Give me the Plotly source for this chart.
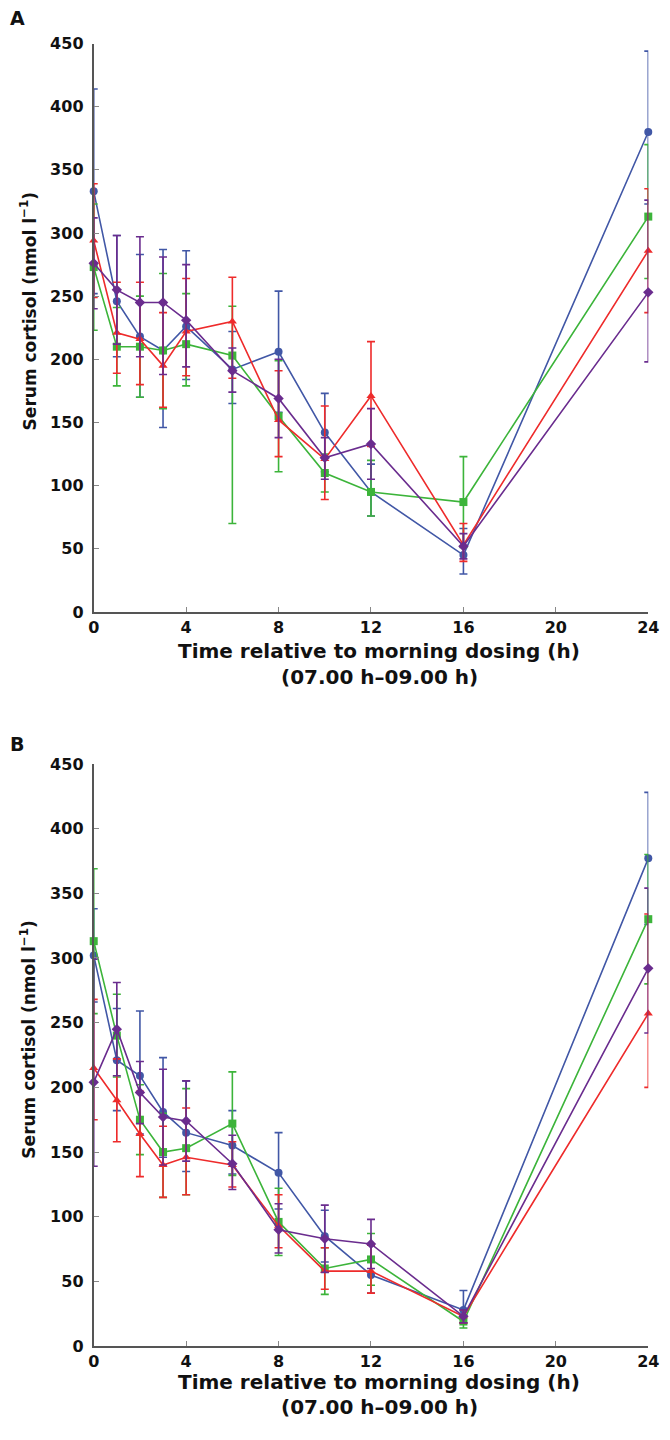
import plotly.graph_objects as go

times = [0, 1, 2, 3, 4, 6, 8, 10, 12, 16, 24]
x_ticks = [0, 4, 8, 12, 16, 20, 24]
y_ticks = [0, 50, 100, 150, 200, 250, 300, 350, 400, 450]

# Panel A
a_blue = [333, 246, 218, 207, 226, 192, 206, 142, 95, 45, 380]
a_blue_up = [81, 52, 65, 80, 60, 30, 48, 31, 22, 21, 64]
a_blue_dn = [81, 44, 48, 61, 42, 27, 48, 31, 19, 15, 57]
a_green = [273, 210, 210, 207, 212, 203, 155, 110, 95, 87, 313]
a_green_up = [50, 31, 40, 61, 40, 39, 44, 15, 25, 36, 57]
a_green_dn = [50, 31, 40, 46, 33, 133, 44, 15, 19, 36, 49]
a_red = [294, 221, 216, 195, 222, 230, 152, 121, 171, 53, 286]
a_red_up = [45, 40, 45, 42, 42, 35, 39, 42, 43, 17, 49]
a_red_dn = [45, 32, 36, 33, 35, 45, 29, 32, 40, 13, 49]
a_purple = [276, 255, 245, 245, 231, 191, 169, 122, 133, 52, 253]
a_purple_up = [36, 43, 52, 36, 44, 18, 31, 16, 28, 10, 73]
a_purple_dn = [36, 43, 43, 57, 37, 17, 31, 17, 28, 10, 55]

# Panel B
b_blue = [302, 221, 209, 181, 165, 155, 134, 85, 55, 28, 377]
b_blue_up = [36, 40, 50, 42, 40, 27, 31, 20, 14, 15, 51]
b_blue_dn = [36, 39, 45, 35, 30, 22, 28, 20, 14, 10, 51]
b_green = [313, 240, 175, 150, 153, 172, 96, 60, 67, 19, 330]
b_green_up = [56, 32, 27, 30, 46, 40, 26, 16, 20, 5, 50]
b_green_dn = [56, 32, 27, 35, 36, 40, 26, 20, 20, 5, 50]
b_red = [215, 190, 164, 140, 146, 140, 93, 58, 58, 23, 257]
b_red_up = [53, 32, 33, 30, 38, 18, 24, 18, 20, 5, 77]
b_red_dn = [40, 32, 33, 25, 29, 17, 17, 14, 17, 5, 57]
b_purple = [204, 245, 196, 177, 174, 141, 90, 83, 79, 23, 292]
b_purple_up = [95, 36, 24, 37, 31, 22, 20, 26, 19, 5, 62]
b_purple_dn = [65, 36, 24, 37, 31, 20, 18, 26, 19, 5, 50]

BLUE = "#4157a6"
GREEN = "#3cb43a"
RED = "#ee2b2b"
PURPLE = "#6a2c8e"

W, H = 670, 1440


def px(x):
    return x / W


def py(y):
    return 1 - y / H


fig = go.Figure()

panels = [
    ("x", "y", [
        (a_blue, a_blue_up, a_blue_dn, BLUE, "circle"),
        (a_green, a_green_up, a_green_dn, GREEN, "square"),
        (a_red, a_red_up, a_red_dn, RED, "triangle-up"),
        (a_purple, a_purple_up, a_purple_dn, PURPLE, "diamond"),
    ]),
    ("x2", "y2", [
        (b_blue, b_blue_up, b_blue_dn, BLUE, "circle"),
        (b_green, b_green_up, b_green_dn, GREEN, "square"),
        (b_red, b_red_up, b_red_dn, RED, "triangle-up"),
        (b_purple, b_purple_up, b_purple_dn, PURPLE, "diamond"),
    ]),
]

for xa, ya, series in panels:
    for vals, up, dn, col, sym in series:
        fig.add_trace(go.Scatter(
            x=times, y=vals, xaxis=xa, yaxis=ya,
            mode="lines+markers",
            line=dict(color=col, width=1.6),
            marker=dict(color=col, symbol=sym, size=8),
            error_y=dict(type="data", symmetric=False, array=up, arrayminus=dn,
                         color=col, thickness=1.6, width=4),
            cliponaxis=False, showlegend=False,
        ))

FONT = "DejaVu Sans"
axis_common = dict(
    showgrid=False, zeroline=False, showline=True, linecolor="#555555", linewidth=2,
    ticks="inside", ticklen=5, tickcolor="#888888", tickwidth=1,
    ticklabeloverflow="allow",
    tickfont=dict(family=FONT, size=16, color="#111111", weight="bold"),
)

fig.update_layout(
    width=W, height=H, margin=dict(l=0, r=0, t=0, b=0),
    paper_bgcolor="white", plot_bgcolor="white",
    xaxis=dict(domain=[px(90), px(659)], range=[0, 24], tickvals=x_ticks, anchor="y", **axis_common),
    yaxis=dict(domain=[py(611), py(35)], range=[0, 450], tickvals=y_ticks, anchor="x",
               ticklabelstandoff=5, **axis_common),
    xaxis2=dict(domain=[px(90), px(659)], range=[0, 24], tickvals=x_ticks, anchor="y2", **axis_common),
    yaxis2=dict(domain=[py(1355), py(765)], range=[0, 450], tickvals=y_ticks, anchor="x2",
                ticklabelstandoff=5, **axis_common),
)

ann = []
for lab, ylab, ytit, yx1, yx2 in [("A", 9, 306, 651, 677), ("B", 745, 1044, 1391, 1417)]:
    ann.append(dict(text=lab, x=px(2), y=py(ylab), xref="paper", yref="paper",
                    xanchor="left", yanchor="middle", showarrow=False,
                    font=dict(family=FONT, size=19, color="#111111", weight="bold")))
    ann.append(dict(text="Serum cortisol (nmol l<sup>−1</sup>)", x=px(23), y=py(ytit),
                    xref="paper", yref="paper", textangle=-90, xanchor="center", yanchor="middle",
                    showarrow=False, font=dict(family=FONT, size=17, color="#111111", weight="bold")))
    ann.append(dict(text="Time relative to morning dosing (h)", x=px(383), y=py(yx1),
                    xref="paper", yref="paper", xanchor="center", yanchor="middle",
                    showarrow=False, font=dict(family=FONT, size=20, color="#111111", weight="bold")))
    ann.append(dict(text="(07.00 h–09.00 h)", x=px(383), y=py(yx2),
                    xref="paper", yref="paper", xanchor="center", yanchor="middle",
                    showarrow=False, font=dict(family=FONT, size=20, color="#111111", weight="bold")))
fig.update_layout(annotations=ann)

fig.write_html("out.html", config={"displayModeBar": False},
               post_script="document.body.style.margin='0';document.body.style.overflow='hidden';")
